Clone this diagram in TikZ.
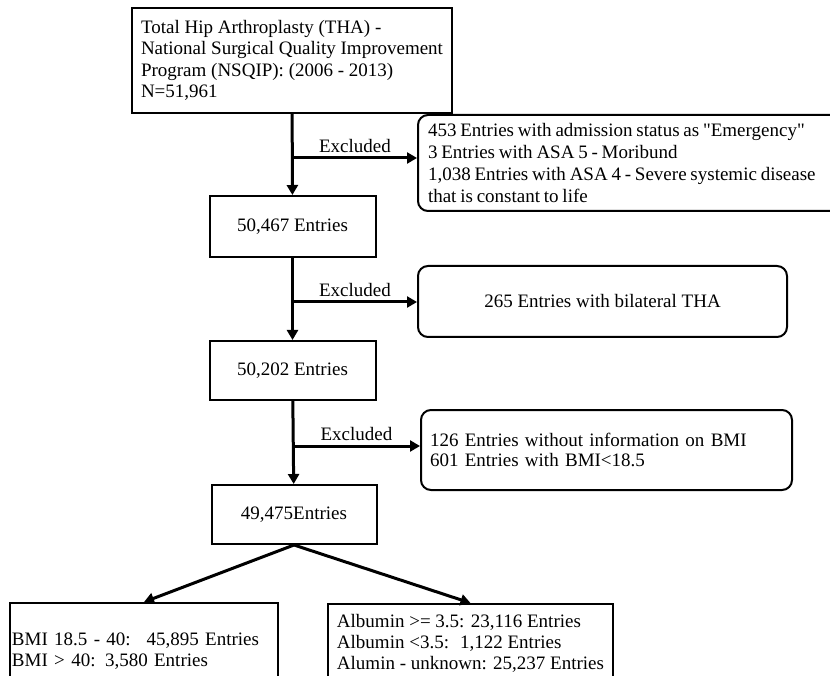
\documentclass[tikz,border=0pt]{standalone}
\usepackage{fontspec}
\setmainfont{Liberation Serif}[Ligatures=TeXOff]
\usetikzlibrary{arrows.meta}

\begin{document}
\begin{tikzpicture}[x=1pt,y=-1pt,
                    >={Triangle[length=10pt,width=11pt]},
                    font=\fontsize{19}{21}\selectfont]
    \tikzset{block/.style= {draw,
                            rectangle,
                            line width=2pt,
                            align=center,
                            inner sep=2pt},
             excl/.style=  {draw,
                            rectangle,
                            rounded corners=10pt,
                            line width=2pt,
                            align=left},
             flow/.style=  {->,
                            line width=3pt},
            }
    \useasboundingbox (0,0) rectangle (830,676);
    \path
    (292,60.5)  node[block, align=left, minimum width=320pt, minimum height=105pt,
                     font=\fontsize{19}{21.5}\selectfont](tha)
                {Total Hip Arthroplasty (THA) -\\National Surgical Quality Improvement\\Program (NSQIP): (2006 - 2013)\\N=51,961}
    (292.5,226.5) node[block, minimum width=166pt, minimum height=61pt](n1) {50,467 Entries}
    (292.5,370.5) node[block, minimum width=166pt, minimum height=59pt](n2) {50,202 Entries}
    (294,514.5) node[block, minimum width=165pt, minimum height=59pt](n3) {49,475Entries}
    (633,163)   node[excl, inner xsep=10pt, text width=410pt, minimum height=96pt,
                     font=\fontsize{19}{22}\selectfont](x1)
                {\spaceskip=3.8pt plus 1pt
                 453 Entries with admission status as "Emergency"\\3 Entries with ASA 5 - Moribund\\1,038 Entries with ASA 4 - Severe systemic disease\\that is constant to life}
    (602.5,301.5) node[excl, align=center, minimum width=369pt, minimum height=71pt](x2)
                {265 Entries with bilateral THA}
    (606.5,450) node[excl, inner xsep=9pt, text width=353pt, minimum height=80pt,
                     font=\fontsize{19}{20}\selectfont](x3)
                {126 Entries without information on BMI\\601 Entries with BMI<18.5}
    (144,651)   node[block, align=left, inner xsep=2pt, text width=264pt, minimum height=96pt](bmi)
                {BMI 18.5 - 40:~ 45,895 Entries\\BMI > 40: 3,580 Entries}
    (470.5,643) node[block, align=left, minimum width=285pt, minimum height=78pt](alb)
                {Albumin >= 3.5: 23,116 Entries\\Albumin <3.5:~ 1,122 Entries\\Alumin - unknown: 25,237 Entries}
    ;
    \coordinate (j1) at (293,158);
    \coordinate (j2) at (293,302);
    \coordinate (j3) at (293,446);
    \draw[flow] (tha) -- (n1);
    \draw[flow] (n1) -- (n2);
    \draw[flow] (n2) -- (n3);
    \draw[flow] (j1) -- (j1 -| x1.west) node[midway, above] {Excluded};
    \draw[flow] (j2) -- (j2 -| x2.west) node[midway, above] {Excluded};
    \draw[flow] (j3) -- (j3 -| x3.west) node[midway, above] {Excluded};
    \draw[flow] (n3.south) -- (bmi.north);
    \draw[flow] (n3.south) -- (alb.north);
\end{tikzpicture}
\end{document}
